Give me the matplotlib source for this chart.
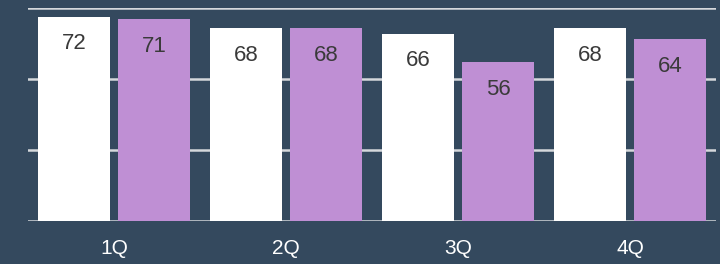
import numpy as np
import matplotlib.pyplot as plt

plt.rcParams['font.family'] = ['Liberation Sans', 'DejaVu Sans']

quarters = ['1Q', '2Q', '3Q', '4Q']
series_a = [72, 68, 66, 68]
series_b = [71, 68, 56, 64]

bg = '#34495e'
purple = '#bf8fd4'
grid_col = '#d5d8dc'

fig = plt.figure(figsize=(7.2, 2.64), dpi=100, facecolor=bg)
ax = fig.add_axes([28 / 720, 43 / 264, 688 / 720, 213 / 264])
ax.set_facecolor(bg)

x = np.arange(len(quarters))
w = 0.413
off = 0.2326
bars_a = ax.bar(x - off, series_a, w, color='white', zorder=3)
bars_b = ax.bar(x + off, series_b, w, color=purple, zorder=3)

# value labels inside the top of each bar
for bars in (bars_a, bars_b):
    for b in bars:
        ax.annotate(f'{b.get_height():.0f}',
                    (b.get_x() + b.get_width() / 2, b.get_height()),
                    xytext=(0, -12), textcoords='offset points',
                    ha='center', va='top', fontsize=16, color='#3a3a3a', zorder=4)

ax.set_xlim(-0.5, len(quarters) - 0.5)
ax.set_ylim(0, 75)
ax.set_yticks([0, 25, 50, 75])
ax.yaxis.grid(True, color=grid_col, linewidth=1.8, zorder=1)
ax.tick_params(axis='y', length=0, labelleft=False)
ax.set_xticks(x)
ax.set_xticklabels(quarters, fontsize=15, color='white')
ax.tick_params(axis='x', length=0, pad=13)
for s in ax.spines.values():
    s.set_visible(False)

fig.savefig('out.png', dpi=100, facecolor=bg)
